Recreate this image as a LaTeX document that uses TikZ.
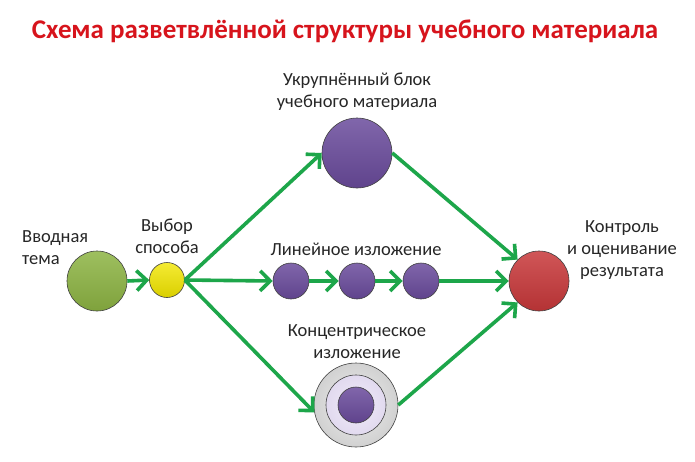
\documentclass[tikz,border=0pt]{standalone}
\usepackage{fontspec}
\setmainfont{Carlito}
\usetikzlibrary{arrows.meta}
\definecolor{arrgreen}{HTML}{1DA64A}
\definecolor{ballgreen}{HTML}{8DB443}
\definecolor{ballyellow}{HTML}{F2E600}
\definecolor{ballpurple}{HTML}{6A4B9C}
\definecolor{ballred}{HTML}{C8383A}
\definecolor{titlered}{HTML}{D7141C}
\definecolor{ringgray}{HTML}{DCDCDC}
\definecolor{ringlav}{HTML}{E8E0F6}
\tikzset{
  ball/.style={circle, inner sep=0pt, draw=black!75, line width=0.6pt},
  lbl/.style={align=center, font=\fontsize{18.5}{22}\selectfont, text=black!85, inner sep=0pt},
  conn/.style={draw=arrgreen, line width=3.6pt, -{Straight Barb[length=10pt,width=20pt]}},
}
\begin{document}
\begin{tikzpicture}[x=1pt,y=-1pt]
\useasboundingbox (0,0) rectangle (695,461);
\fill[white] (0,0) rectangle (695,461);
% title
\node[font=\bfseries\fontsize{27}{30}\selectfont, text=titlered, anchor=base] (title) at (345,38) {Схема разветвлённой структуры учебного материала};
% balls
\node[ball, minimum size=60pt, top color=ballgreen!85!white, bottom color=ballgreen!90!black] (intro) at (97,281) {};
\node[ball, minimum size=35pt, top color=ballyellow!80!white, bottom color=ballyellow!90!black] (choice) at (167,280) {};
\node[ball, minimum size=70pt, top color=ballpurple!85!white, bottom color=ballpurple!90!black] (block) at (357,153) {};
\node[ball, minimum size=36pt, top color=ballpurple!85!white, bottom color=ballpurple!90!black] (l1) at (291,281) {};
\node[ball, minimum size=36pt, top color=ballpurple!85!white, bottom color=ballpurple!90!black] (l2) at (357,281) {};
\node[ball, minimum size=36pt, top color=ballpurple!85!white, bottom color=ballpurple!90!black] (l3) at (421,281) {};
\node[ball, minimum size=84pt, inner color=ringgray!50!white, outer color=ringgray!95!black] (conc) at (356,405) {};
\node[ball, minimum size=60pt, inner color=ringlav!60!white, outer color=ringlav!97!black] (concmid) at (356,405) {};
\node[ball, minimum size=36pt, top color=ballpurple!85!white, bottom color=ballpurple!90!black] (concin) at (356,405) {};
\node[ball, minimum size=60pt, top color=ballred!85!white, bottom color=ballred!90!black] (result) at (539,281) {};
% labels (base anchor = baseline of the last line)
\node[lbl, anchor=base west, align=left] (tintro) at (22,264) {Вводная\\тема};
\node[lbl, anchor=base] (tchoice) at (167,253) {Выбор\\способа};
\node[lbl, anchor=base] (tblock) at (357,107) {Укрупнённый блок\\учебного материала};
\node[lbl, anchor=base] (tlin) at (356,255) {Линейное изложение};
\node[lbl, anchor=base] (tconc) at (357,358) {Концентрическое\\изложение};
\node[lbl, anchor=base] (tres) at (622,276) {Контроль\\и оценивание\\результата};
% connectors
\draw[conn] (intro.east) -- (choice.west);
\draw[conn] (choice.east) -- (block.west);
\draw[conn] (choice.east) -- (l1.west);
\draw[conn] (choice.east) -- (conc.190);
\draw[conn] (l1.east) -- (l2.west);
\draw[conn] (l2.east) -- (l3.west);
\draw[conn] (block.east) -- (result.135);
\draw[conn] (l3.east) -- (result.west);
\draw[conn] (conc.east) -- (result.225);
\end{tikzpicture}
\end{document}
